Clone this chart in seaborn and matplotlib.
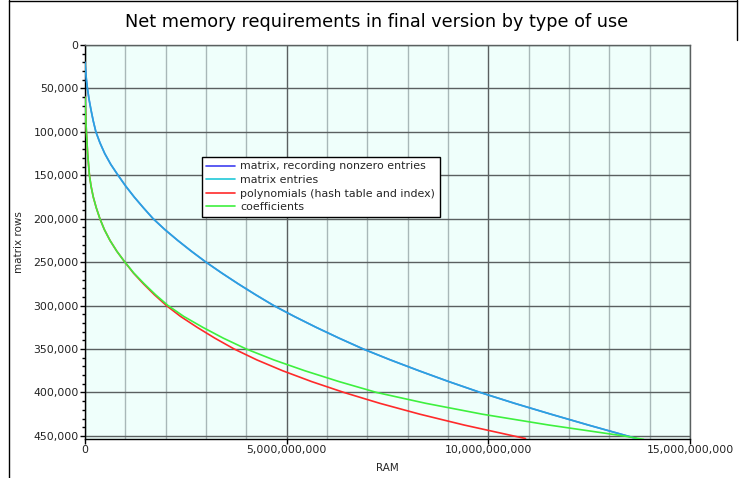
import numpy as np
import pandas as pd
import matplotlib
matplotlib.use("Agg")
import matplotlib.pyplot as plt
import matplotlib.ticker as mticker
from matplotlib.lines import Line2D
import seaborn as sns

# ---- data (RAM in bytes, rows in matrix rows) ----
series_names = ["matrix, recording nonzero entries", "matrix entries",
                "polynomials (hash table and index)", "coefficients"]
series_colors = ["#4040f0", "#20c8d8", "#ff2a2a", "#3ef03e"]

matrix_rows = [20000, 30000, 40000, 50000, 62500, 75000, 87500, 100000, 112500, 125000,
               137500, 150000, 162500, 175000, 187500, 200000, 212500, 225000, 237500,
               250000, 262500, 275000, 287500, 300000, 312500, 325000, 337500, 350000,
               362500, 375000, 387500, 400000, 412500, 425000, 437500, 450000, 453000]
matrix_ram = [0.0, 0.015e9, 0.035e9, 0.06e9, 0.10e9, 0.15e9, 0.205e9, 0.27e9, 0.37e9,
              0.49e9, 0.64e9, 0.82e9, 1.01e9, 1.22e9, 1.45e9, 1.69e9, 1.98e9, 2.30e9,
              2.64e9, 3.00e9, 3.39e9, 3.80e9, 4.23e9, 4.68e9, 5.19e9, 5.73e9, 6.30e9,
              6.90e9, 7.57e9, 8.28e9, 9.02e9, 9.80e9, 10.65e9, 11.55e9, 12.48e9,
              13.44e9, 13.67e9]

poly_rows = [60000, 80000, 100000, 125000, 150000, 162500, 175000, 187500, 200000,
             212500, 225000, 237500, 250000, 262500, 275000, 287500, 300000, 312500,
             325000, 337500, 350000, 362500, 375000, 387500, 400000, 412500, 425000,
             437500, 450000, 453000]
poly_ram = [0.0, 0.015e9, 0.035e9, 0.065e9, 0.11e9, 0.15e9, 0.205e9, 0.28e9, 0.37e9,
            0.48e9, 0.62e9, 0.79e9, 0.99e9, 1.20e9, 1.45e9, 1.72e9, 2.02e9, 2.37e9,
            2.78e9, 3.22e9, 3.70e9, 4.26e9, 4.90e9, 5.62e9, 6.42e9, 7.31e9, 8.30e9,
            9.40e9, 10.62e9, 10.92e9]

coef_rows = [60000, 80000, 100000, 125000, 150000, 162500, 175000, 187500, 200000,
             212500, 225000, 237500, 250000, 262500, 275000, 287500, 300000, 312500,
             325000, 337500, 350000, 362500, 375000, 387500, 400000, 412500, 425000,
             437500, 450000, 454000]
coef_ram = [0.0, 0.015e9, 0.035e9, 0.065e9, 0.11e9, 0.15e9, 0.205e9, 0.28e9, 0.37e9,
            0.48e9, 0.62e9, 0.79e9, 0.99e9, 1.21e9, 1.47e9, 1.75e9, 2.06e9, 2.45e9,
            2.92e9, 3.43e9, 4.00e9, 4.68e9, 5.45e9, 6.30e9, 7.23e9, 8.45e9, 9.85e9,
            11.50e9, 13.35e9, 13.85e9]

x_ticks = [0, 5e9, 10e9, 15e9]
y_ticks = [0, 50000, 100000, 150000, 200000, 250000, 300000, 350000, 400000, 450000]

frames = []
for name, ram, rows in [(series_names[0], matrix_ram, matrix_rows),
                        (series_names[1], matrix_ram, matrix_rows),
                        (series_names[2], poly_ram, poly_rows),
                        (series_names[3], coef_ram, coef_rows)]:
    frames.append(pd.DataFrame({"RAM": ram, "rows": rows, "series": name}))
df = pd.concat(frames, ignore_index=True)

# ---- figure ----
sns.set_style("white")
plt.rcParams["font.family"] = ["DejaVu Sans"]
fig = plt.figure(figsize=(7.39, 4.78), dpi=100)
ax = fig.add_axes([85 / 739, 1 - 438.5 / 478, 605 / 739, 393.5 / 478])
ax.set_facecolor("#effffb")

sns.lineplot(data=df, x="RAM", y="rows", hue="series", hue_order=series_names,
             palette=dict(zip(series_names, series_colors)), sort=False,
             estimator=None, units="series", linewidth=1.2, ax=ax, zorder=3)
lines = ax.get_lines()
if len(lines) >= 2:
    lines[1].set_alpha(0.75)

ax.set_xlim(0, 15e9)
ax.set_ylim(453000, 0)
ax.set_xticks(x_ticks)
ax.set_yticks(y_ticks)
ax.xaxis.set_minor_locator(mticker.MultipleLocator(1e9))
ax.yaxis.set_minor_locator(mticker.MultipleLocator(10000))
fmt = mticker.FuncFormatter(lambda v, p: f"{int(round(v)):,}")
ax.xaxis.set_major_formatter(fmt)
ax.yaxis.set_major_formatter(fmt)

ax.grid(which="major", axis="both", color="#5a6060", linewidth=1.0, zorder=1)
ax.grid(which="minor", axis="x", color="#a8b8b8", linewidth=1.0, zorder=1)
ax.set_axisbelow(True)

ax.tick_params(axis="both", which="major", direction="out", length=3.5, width=1,
               labelsize=7.8, color="black", labelcolor="#222222",
               left=True, bottom=True, pad=1)
ax.tick_params(axis="y", which="minor", direction="out", length=2.3, width=1,
               left=True, color="black")
ax.tick_params(axis="x", which="minor", length=0)

for s in ["left", "bottom"]:
    ax.spines[s].set_color("black")
    ax.spines[s].set_linewidth(1.0)
for s in ["top", "right"]:
    ax.spines[s].set_color("#5a6060")
    ax.spines[s].set_linewidth(1.0)

ax.set_xlabel("RAM", fontsize=7.5, labelpad=6)
ax.set_ylabel("matrix rows", fontsize=7.5, labelpad=7)

leg = ax.legend(loc="upper left", bbox_to_anchor=((202 - 85) / 605, (438.5 - 157) / 393.5),
                borderaxespad=0, fontsize=7.9, frameon=True, fancybox=False,
                edgecolor="black", framealpha=1, handlelength=2.6,
                labelspacing=0.33, borderpad=0.4, handletextpad=0.5)
leg.get_frame().set_linewidth(1.0)
for h in leg.get_lines():
    h.set_alpha(1)
    h.set_linewidth(1.2)

fig.text(376.5 / 739, 1 - 22 / 478, "Net memory requirements in final version by type of use",
         ha="center", va="center", fontsize=12.7, color="black")

# page frame
fig.add_artist(Line2D([8.5 / 739, 8.5 / 739], [0, 1], transform=fig.transFigure,
                      color="black", linewidth=1.0))
fig.add_artist(Line2D([8.5 / 739, 736.5 / 739], [1 - 0.5 / 478, 1 - 0.5 / 478],
                      transform=fig.transFigure, color="black", linewidth=1.0))
fig.add_artist(Line2D([736.5 / 739, 736.5 / 739], [1, 1 - 40 / 478],
                      transform=fig.transFigure, color="black", linewidth=1.0))

fig.savefig("out.png", dpi=100)
